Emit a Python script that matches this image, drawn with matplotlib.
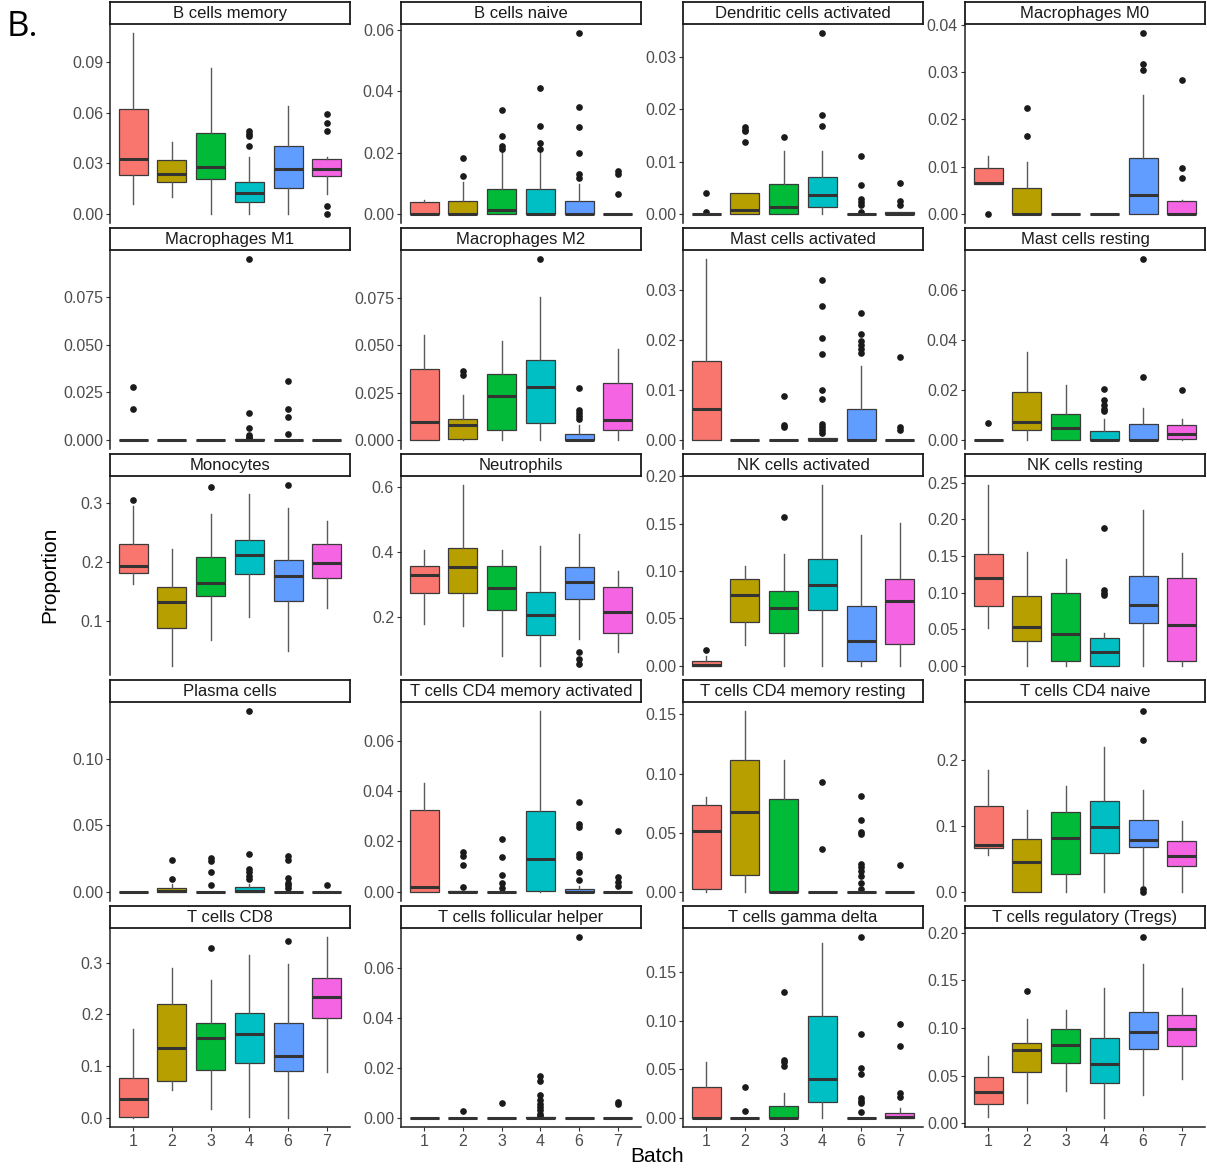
import matplotlib
matplotlib.use("Agg")
import matplotlib.pyplot as plt

plt.rcParams['font.family'] = ['Liberation Sans', 'DejaVu Sans']

# Batches and fill colours (ggplot hue palette)
batches = ["1", "2", "3", "4", "6", "7"]
batch_colors = ["#F8766D", "#B79F00", "#00BA38", "#00BFC4", "#619CFF", "#F564E3"]

# Each box: [lower whisker, Q1, median, Q3, upper whisker]; outliers listed separately
b_mem = [[0.0059, 0.0231, 0.0326, 0.062, 0.107], [0.0103, 0.0191, 0.0235, 0.032, 0.0424],
         [0.0, 0.0209, 0.028, 0.048, 0.0863], [0.0, 0.0073, 0.0122, 0.0188, 0.0336],
         [0.0, 0.0154, 0.0266, 0.0403, 0.0641], [0.0118, 0.0227, 0.0263, 0.0326, 0.0339]]
b_mem_out = [[], [], [], [0.049, 0.0475, 0.0464, 0.0399], [], [0.0592, 0.054, 0.049, 0.0049, 0.0]]

b_naive = [[0, 0, 0, 0.004, 0.0046], [0, 0, 0, 0.0043, 0.0103], [0, 0, 0.0013, 0.0082, 0.0205],
           [0, 0, 0, 0.0082, 0.0205], [0, 0, 0, 0.0043, 0.0098], [0, 0, 0, 0, 0]]
b_naive_out = [[], [0.0123, 0.0182], [0.021, 0.022, 0.0253, 0.0337], [0.021, 0.0232, 0.0287, 0.0411],
               [0.0116, 0.013, 0.0198, 0.0283, 0.0349, 0.0589], [0.0065, 0.0129, 0.0141]]

dc_act = [[0, 0, 0, 0, 0], [0, 0, 0.0008, 0.0041, 0.0041], [0, 0, 0.0014, 0.0057, 0.012],
          [0, 0.0014, 0.0037, 0.007, 0.012], [0, 0, 0, 0, 0], [0, 0, 0, 0.0004, 0.0004]]
dc_act_out = [[0.0041, 0.0004], [0.0138, 0.0158, 0.016, 0.0166], [0.0148], [0.0168, 0.019, 0.0346],
              [0.0111, 0.0055, 0.0029, 0.0022, 0.0018, 0.0003], [0.006, 0.0024, 0.0018]]

mac_m0 = [[0.0063, 0.0063, 0.0066, 0.0098, 0.0122], [0, 0, 0, 0.0054, 0.011], [0, 0, 0, 0, 0],
          [0, 0, 0, 0, 0], [0, 0, 0.0041, 0.0119, 0.0251], [0, 0, 0, 0.0027, 0.003]]
mac_m0_out = [[0.0], [0.0165, 0.0223], [], [], [0.0304, 0.0316, 0.0382], [0.0075, 0.0096, 0.0283]]

mac_m1 = [[0, 0, 0, 0, 0], [0, 0, 0, 0, 0], [0, 0, 0, 0, 0],
          [0, 0, 0, 0.0005, 0.0005], [0, 0, 0, 0, 0], [0, 0, 0, 0, 0]]
mac_m1_out = [[0.0278, 0.0165], [], [], [0.0952, 0.0144, 0.0065, 0.0026, 0.0018, 0.001],
              [0.0308, 0.0162, 0.0121, 0.0033], []]

mac_m2 = [[0, 0, 0.0093, 0.0373, 0.0556], [0, 0.0004, 0.0077, 0.0113, 0.0236], [0, 0.0051, 0.0231, 0.035, 0.0521],
          [0, 0.0092, 0.0278, 0.0423, 0.0755], [0, 0, 0, 0.0033, 0.0077], [0, 0.0051, 0.0106, 0.0301, 0.0479]]
mac_m2_out = [[], [0.0345, 0.0363], [], [0.0954], [0.0109, 0.0127, 0.0144, 0.0157, 0.0276], []]

mast_act = [[0, 0, 0.0062, 0.0158, 0.0362], [0, 0, 0, 0, 0], [0, 0, 0, 0, 0],
            [0, 0, 0, 0.0003, 0.0003], [0, 0, 0, 0.0062, 0.0148], [0, 0, 0, 0, 0]]
mast_act_out = [[], [], [0.0087, 0.003, 0.0026],
                [0.032, 0.0269, 0.0205, 0.0172, 0.0099, 0.0081, 0.0032, 0.0025, 0.002, 0.0013],
                [0.0254, 0.0213, 0.0199, 0.0191, 0.0183, 0.0174], [0.0165, 0.0026, 0.002]]

mast_rest = [[0, 0, 0, 0, 0], [0, 0.004, 0.0073, 0.0193, 0.0352], [0, 0, 0.0049, 0.0105, 0.0219],
             [0, 0, 0, 0.0037, 0.0085], [0, 0, 0, 0.0063, 0.0129], [0, 0.0003, 0.0025, 0.0059, 0.0085]]
mast_rest_out = [[0.0069], [], [], [0.0204, 0.016, 0.0139, 0.0125, 0.0115], [0.025, 0.0723], [0.0201]]

mono = [[0.1626, 0.1813, 0.1926, 0.2306, 0.295], [0.0232, 0.0867, 0.132, 0.157, 0.222],
        [0.0669, 0.141, 0.1643, 0.2074, 0.281], [0.1065, 0.1785, 0.2113, 0.2368, 0.315],
        [0.0482, 0.1337, 0.1756, 0.2034, 0.2912], [0.1212, 0.1717, 0.1983, 0.2295, 0.2691]]
mono_out = [[0.305], [], [0.3263], [], [0.3297], []]

neut = [[0.177, 0.272, 0.329, 0.355, 0.405], [0.172, 0.272, 0.354, 0.41, 0.605],
        [0.08, 0.2215, 0.29, 0.357, 0.405], [0.049, 0.1446, 0.205, 0.276, 0.418],
        [0.131, 0.254, 0.3056, 0.352, 0.454], [0.093, 0.149, 0.215, 0.292, 0.3415]]
neut_out = [[], [], [], [], [0.092, 0.07, 0.054], []]

nk_act = [[0, 0, 0.0005, 0.0053, 0.0106], [0.0222, 0.0459, 0.0744, 0.0917, 0.105],
          [0, 0.0342, 0.061, 0.0787, 0.1175], [0, 0.0589, 0.0857, 0.1129, 0.1905],
          [0, 0.0053, 0.0261, 0.0631, 0.1376], [0, 0.0236, 0.0688, 0.092, 0.1506]]
nk_act_out = [[0.0166], [], [0.157], [], [], []]

nk_rest = [[0.0514, 0.0818, 0.1205, 0.1523, 0.2468], [0, 0.0341, 0.0527, 0.0959, 0.156],
           [0, 0.0073, 0.0441, 0.0991, 0.1455], [0, 0, 0.0191, 0.0377, 0.0445],
           [0, 0.0591, 0.0832, 0.1227, 0.2127], [0, 0.0073, 0.0559, 0.1195, 0.1536]]
nk_rest_out = [[], [], [], [0.097, 0.1, 0.1036, 0.1877], [], []]

plasma = [[0, 0, 0, 0, 0], [0, 0, 0.0008, 0.003, 0.0058], [0, 0, 0, 0, 0],
          [0, 0, 0.0008, 0.0038, 0.0058], [0, 0, 0, 0, 0], [0, 0, 0, 0, 0]]
plasma_out = [[], [0.01, 0.0241], [0.005, 0.0151, 0.0234, 0.0251],
              [0.01, 0.012, 0.0146, 0.017, 0.0284, 0.1357],
              [0.003, 0.005, 0.007, 0.0106, 0.0241, 0.0266], [0.0055]]

cd4_mem_act = [[0, 0, 0.0021, 0.0323, 0.0433], [0, 0, 0, 0.0005, 0.0005], [0, 0, 0, 0, 0],
               [0, 0.0005, 0.0131, 0.0319, 0.0717], [0, 0, 0, 0.0012, 0.0023], [0, 0, 0, 0, 0]]
cd4_mem_act_out = [[], [0.0019, 0.0105, 0.0144, 0.0158], [0.0016, 0.0036, 0.0069, 0.014, 0.021], [],
                   [0.0048, 0.0078, 0.0138, 0.0151, 0.0257, 0.027, 0.0356], [0.0023, 0.0041, 0.006, 0.0241]]

cd4_mem_rest = [[0, 0.0023, 0.0512, 0.0736, 0.0801], [0, 0.0141, 0.0673, 0.1118, 0.1528],
                [0, 0, 0, 0.0787, 0.1112], [0, 0, 0, 0, 0], [0, 0, 0, 0, 0], [0, 0, 0, 0, 0]]
cd4_mem_rest_out = [[], [], [], [0.0928, 0.0362],
                    [0.081, 0.0611, 0.0509, 0.049, 0.0232, 0.0207, 0.0178, 0.0136, 0.0079, 0.0023], [0.0229]]

cd4_naive = [[0.0562, 0.0658, 0.0714, 0.1296, 0.1838], [0, 0, 0.0446, 0.0795, 0.1246],
             [0, 0.0268, 0.081, 0.1215, 0.16], [0, 0.0587, 0.0977, 0.1372, 0.2187],
             [0.01, 0.0673, 0.079, 0.1094, 0.1544], [0, 0.039, 0.0547, 0.0765, 0.1068]]
cd4_naive_out = [[], [], [], [], [0.2734, 0.2289, 0.004, 0.0], []]

cd8 = [[0, 0.002, 0.0374, 0.0768, 0.1729], [0.0535, 0.071, 0.1348, 0.22, 0.2897],
       [0.0168, 0.0935, 0.1548, 0.1839, 0.2658], [0.002, 0.1065, 0.1619, 0.2026, 0.3148],
       [0, 0.0916, 0.1206, 0.1839, 0.2974], [0.089, 0.1935, 0.2335, 0.271, 0.3497]]
cd8_out = [[], [], [0.329], [], [0.3419], []]

tfh = [[0, 0, 0, 0, 0], [0, 0, 0, 0, 0], [0, 0, 0, 0, 0],
       [0, 0, 0, 0.0003, 0.0003], [0, 0, 0, 0, 0], [0, 0, 0, 0, 0]]
tfh_out = [[], [0.0029], [0.0059], [0.0169, 0.0147, 0.0094, 0.0071, 0.0058, 0.0044, 0.0031, 0.0017, 0.0008],
           [0.0726], [0.0064, 0.0055]]

gd = [[0, 0, 0, 0.0323, 0.0573], [0, 0, 0, 0, 0], [0, 0, 0, 0.012, 0.0254],
      [0, 0.0168, 0.0398, 0.1047, 0.1798], [0, 0, 0, 0, 0], [0, 0, 0.0014, 0.0055, 0.0103]]
gd_out = [[], [0.0316, 0.0075], [0.0539, 0.058, 0.0597, 0.13], [],
          [0.186, 0.0865, 0.0511, 0.0453, 0.0203, 0.0178, 0.0154, 0.0065], [0.0961, 0.0741, 0.0257, 0.022]]

treg = [[0.0063, 0.0203, 0.0333, 0.049, 0.0701], [0.0217, 0.0543, 0.0771, 0.0844, 0.1096],
        [0.0343, 0.0634, 0.0823, 0.0991, 0.1191], [0.0056, 0.042, 0.062, 0.09, 0.1419],
        [0.0298, 0.0778, 0.0953, 0.1163, 0.1667], [0.0462, 0.0813, 0.0991, 0.1131, 0.1422]]
treg_out = [[], [0.1384], [], [], [0.1954], []]

# Facet titles and y tick values
panel_names = ["B cells memory", "B cells naive", "Dendritic cells activated", "Macrophages M0",
               "Macrophages M1", "Macrophages M2", "Mast cells activated", "Mast cells resting",
               "Monocytes", "Neutrophils", "NK cells activated", "NK cells resting",
               "Plasma cells", "T cells CD4 memory activated", "T cells CD4 memory resting", "T cells CD4 naive",
               "T cells CD8", "T cells follicular helper", "T cells gamma delta", "T cells regulatory (Tregs)"]
panel_boxes = [b_mem, b_naive, dc_act, mac_m0, mac_m1, mac_m2, mast_act, mast_rest,
               mono, neut, nk_act, nk_rest, plasma, cd4_mem_act, cd4_mem_rest, cd4_naive,
               cd8, tfh, gd, treg]
panel_outliers = [b_mem_out, b_naive_out, dc_act_out, mac_m0_out, mac_m1_out, mac_m2_out, mast_act_out,
                  mast_rest_out, mono_out, neut_out, nk_act_out, nk_rest_out, plasma_out, cd4_mem_act_out,
                  cd4_mem_rest_out, cd4_naive_out, cd8_out, tfh_out, gd_out, treg_out]
panel_yticks = [[0, 0.03, 0.06, 0.09], [0, 0.02, 0.04, 0.06], [0, 0.01, 0.02, 0.03], [0, 0.01, 0.02, 0.03, 0.04],
                [0, 0.025, 0.05, 0.075], [0, 0.025, 0.05, 0.075], [0, 0.01, 0.02, 0.03], [0, 0.02, 0.04, 0.06],
                [0.1, 0.2, 0.3], [0.2, 0.4, 0.6], [0, 0.05, 0.1, 0.15, 0.2], [0, 0.05, 0.1, 0.15, 0.2, 0.25],
                [0, 0.05, 0.1], [0, 0.02, 0.04, 0.06], [0, 0.05, 0.1, 0.15], [0, 0.1, 0.2],
                [0, 0.1, 0.2, 0.3], [0, 0.02, 0.04, 0.06], [0, 0.05, 0.1, 0.15], [0, 0.05, 0.1, 0.15, 0.2]]


def tick_fmt(ticks):
    d = 0
    while any(abs(round(t, d) - t) > 1e-9 for t in ticks):
        d += 1
    return ["%.*f" % (d, t) for t in ticks]


W, H = 1207, 1174
fig = plt.figure(figsize=(W / 100, H / 100), dpi=100)

col_x = [110, 401, 683, 965]
row_y = [2, 228, 454, 680, 906]
pw, sh, ah = 240, 22, 199
positions = list(range(1, len(batches) + 1))

for i, name in enumerate(panel_names):
    r, c = divmod(i, 4)
    x0, y0 = col_x[c], row_y[r]
    ax = fig.add_axes([x0 / W, 1 - (y0 + sh + ah) / H, pw / W, ah / H])
    sax = fig.add_axes([x0 / W, 1 - (y0 + sh) / H, pw / W, sh / H])

    boxes, outs = panel_boxes[i], panel_outliers[i]
    stats = [dict(whislo=b[0], q1=b[1], med=b[2], q3=b[3], whishi=b[4], fliers=o)
             for b, o in zip(boxes, outs)]
    res = ax.bxp(stats, positions=positions, widths=0.75, patch_artist=True, showcaps=False,
                 boxprops=dict(edgecolor="#3a3a3a", linewidth=0.9),
                 whiskerprops=dict(color="#5a5a5a", linewidth=1.0),
                 medianprops=dict(color="#333333", linewidth=2.2),
                 flierprops=dict(marker="o", markerfacecolor="#1a1a1a", markeredgecolor="#1a1a1a",
                                 markersize=3.8, linestyle="none"))
    for patch, col in zip(res["boxes"], batch_colors):
        patch.set_facecolor(col)

    vals = [v for b in boxes for v in (b[0], b[4])] + [v for o in outs for v in o]
    lo, hi = min(vals), max(vals)
    span = hi - lo
    ax.set_ylim(lo - 0.05 * span, hi + 0.05 * span)
    ax.set_xlim(0.4, 6.6)

    ticks = panel_yticks[i]
    ax.set_yticks(ticks)
    ax.set_yticklabels(tick_fmt(ticks))
    ax.tick_params(axis="y", length=3, width=0.8, color="#333333", labelcolor="#4D4D4D",
                   labelsize=11.5, pad=2)
    for s in ["top", "right"]:
        ax.spines[s].set_visible(False)
    ax.spines["left"].set_color("#222222")
    ax.spines["left"].set_linewidth(1.1)
    if r == 4:
        ax.set_xticks(positions)
        ax.set_xticklabels(batches)
        ax.tick_params(axis="x", length=3, width=0.8, color="#333333", labelcolor="#4D4D4D",
                       labelsize=11.5, pad=2)
        ax.spines["bottom"].set_color("#222222")
        ax.spines["bottom"].set_linewidth(1.1)
    else:
        ax.set_xticks([])
        ax.spines["bottom"].set_visible(False)

    sax.set_xticks([])
    sax.set_yticks([])
    for s in sax.spines.values():
        s.set_color("#1a1a1a")
        s.set_linewidth(1.3)
    sax.text(0.5, 0.47, name, ha="center", va="center", fontsize=12, color="#1A1A1A",
             transform=sax.transAxes)

fig.text(50 / W, 1 - 575 / H, "Proportion", rotation=90, ha="center", va="center", fontsize=15)
fig.text(657 / W, 1 - 1156 / H, "Batch", ha="center", va="center", fontsize=15)
fig.text(22 / W, 1 - 27 / H, "B.", ha="center", va="center", fontsize=25, family=["Open Sans", "DejaVu Sans"])

fig.savefig("out.png", dpi=100)
